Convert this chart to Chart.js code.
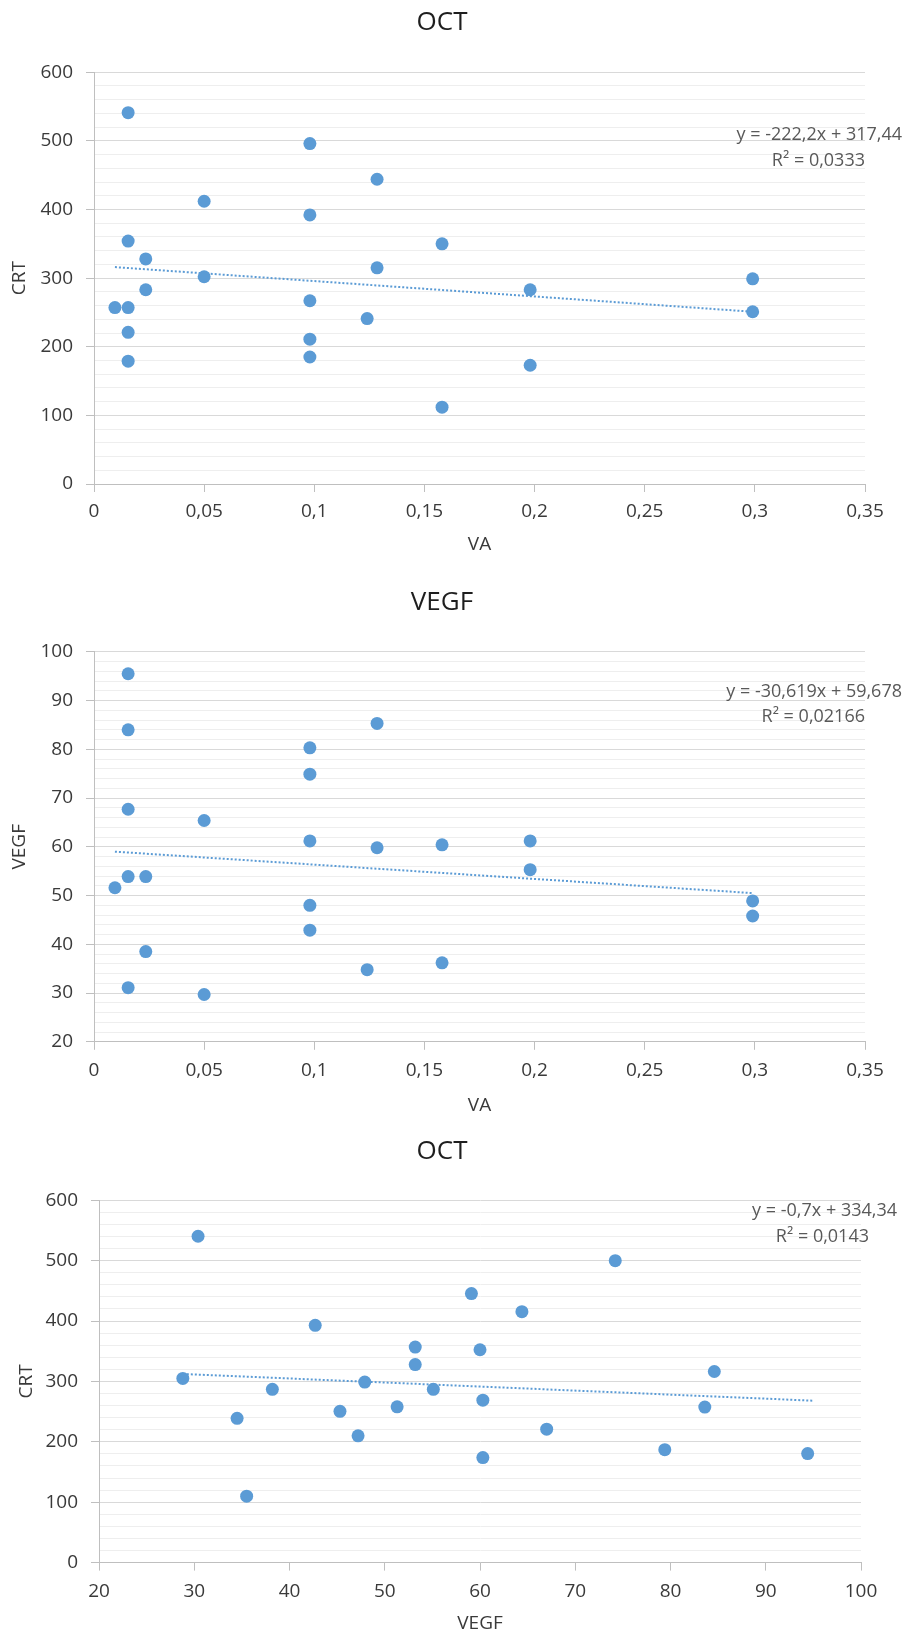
<!DOCTYPE html>
<html>
<head>
<meta charset="utf-8">
<title>OCT / VEGF / VA</title>
<script src="https://cdn.jsdelivr.net/npm/chart.js@4.4.1/dist/chart.umd.min.js"></script>
<style>
body{margin:0;background:#fff;}
canvas{position:absolute;left:0;}
</style>
</head>
<body>
<canvas id="c1" width="908" height="560" style="top:0px"></canvas>
<canvas id="c2" width="908" height="560" style="top:560px"></canvas>
<canvas id="c3" width="908" height="518" style="top:1120px"></canvas>
<script>
// chart 1: VA vs CRT
var va1  = [0.0155, 0.098, 0.1285, 0.05, 0.098, 0.158, 0.0155, 0.0235, 0.1285, 0.05, 0.0235, 0.0095,
            0.0155, 0.098, 0.124, 0.0155, 0.098, 0.098, 0.0155, 0.158, 0.198, 0.299, 0.299, 0.198];
var crt1 = [541, 496, 444, 412, 392, 350, 354, 328, 315, 302, 283, 257,
            257, 267, 241, 221, 211, 185, 179, 112, 283, 299, 251, 173];
var trend1X = [0.0095, 0.299];
var trend1Y = [316, 251];

// chart 2: VA vs VEGF
var va2   = [0.0155, 0.0155, 0.1285, 0.098, 0.098, 0.0155, 0.05, 0.098, 0.1285, 0.158, 0.0155, 0.0235,
             0.0095, 0.098, 0.098, 0.0235, 0.124, 0.158, 0.0155, 0.05, 0.198, 0.198, 0.299, 0.299];
var vegf2 = [95.5, 84, 85.3, 80.3, 74.9, 67.7, 65.4, 61.2, 59.8, 60.4, 53.9, 53.9,
             51.6, 48, 42.9, 38.5, 34.8, 36.2, 31.1, 29.7, 61.2, 55.3, 48.9, 45.8];
var trend2X = [0.0095, 0.299];
var trend2Y = [59.0, 50.5];

// chart 3: VEGF vs CRT
var vegf3 = [30.4, 42.7, 53.2, 53.2, 28.8, 47.9, 38.2, 55.1, 51.3, 45.3, 34.5, 47.2,
             35.5, 74.2, 59.1, 64.4, 60.0, 84.6, 60.3, 83.6, 67.0, 79.4, 94.4, 60.3];
var crt3  = [540.5, 393, 357, 328, 305, 299, 287, 287, 258, 250.5, 239, 210,
             110, 500, 445.5, 415.5, 352.5, 316.5, 269, 257.5, 221, 187, 180.5, 174];
var trend3X = [28.8, 94.9];
var trend3Y = [312.4, 268.2];

var titles = ['OCT', 'VEGF', 'OCT'];
var xTitles = ['VA', 'VA', 'VEGF'];
var yTitles = ['CRT', 'VEGF', 'CRT'];
var eqTexts = ['y = -222,2x + 317,44', 'y = -30,619x + 59,678', 'y = -0,7x + 334,34'];
var r2Texts = ['R\u00B2 = 0,0333', 'R\u00B2 = 0,02166', 'R\u00B2 = 0,0143'];

var blue = '#5b9bd5';
var fontName = "'Open Sans', sans-serif";
var textCol = '#3a3a3a';

function toPoints(xs, ys){
  var pts = [];
  for (var i = 0; i < xs.length; i++) pts.push({x: xs[i], y: ys[i]});
  return pts;
}

function fmt(v){
  return String(Math.round(v * 1000) / 1000).replace('.', ',');
}

// trendline equation text, right aligned like in excel
var eqPlugin = {
  id: 'eqLabel',
  afterDraw: function(chart, args, o){
    var ctx = chart.ctx, a = chart.chartArea;
    ctx.save();
    ctx.font = '18px ' + fontName;
    ctx.fillStyle = '#595959';
    ctx.textAlign = 'right';
    ctx.textBaseline = 'middle';
    ctx.fillText(o.eq, a.right + o.dx1, a.top + o.dy1);
    ctx.fillText(o.r2, a.right + o.dx2, a.top + o.dy2);
    ctx.restore();
  }
};

function makeChart(id, c){
  return new Chart(document.getElementById(id), {
    type: 'scatter',
    data: {
      datasets: [{
        data: toPoints(c.x, c.y),
        backgroundColor: blue, borderColor: blue,
        pointRadius: 6.5, pointHoverRadius: 6.5, borderWidth: 0
      }, {
        data: toPoints(c.tx, c.ty),
        showLine: true, borderColor: blue, borderWidth: 2, borderDash: [2, 2],
        pointRadius: 0, fill: false
      }]
    },
    options: {
      responsive: false,
      animation: false,
      layout: {padding: {left: c.padLeft, right: c.padRight, top: 0, bottom: 0}},
      plugins: {
        legend: {display: false},
        tooltip: {enabled: false},
        title: {
          display: true, text: c.title, color: '#1e1e1e',
          font: {family: fontName, size: 26, weight: 'normal'},
          padding: {top: c.titleTop, bottom: c.titleBottom}
        },
        eqLabel: c.eq
      },
      scales: {
        x: {
          type: 'linear', min: c.xMin, max: c.xMax,
          afterFit: function(s){ s.height = c.xHeight; },
          border: {color: '#bfbfbf'},
          grid: {drawOnChartArea: false, drawTicks: true, tickLength: 8, tickColor: '#bfbfbf'},
          ticks: {
            stepSize: c.xStep, autoSkip: false, maxRotation: 0, padding: c.xTickPad,
            color: textCol, font: {family: fontName, size: 19}, callback: fmt
          },
          title: {
            display: true, text: c.xTitle, color: textCol,
            font: {family: fontName, size: 19}, padding: {top: 0, bottom: c.xTitlePad}
          }
        },
        y: {
          min: c.yMin, max: c.yMax,
          afterFit: function(s){ s.width = c.yWidth; },
          border: {color: '#bfbfbf'},
          grid: {
            tickLength: 8,
            color: function(ctx){ return ctx.tick && ctx.tick.value % c.yMajor === 0 ? '#d9d9d9' : '#eeeeee'; },
            tickColor: function(ctx){ return ctx.tick && ctx.tick.value % c.yMajor === 0 ? '#bfbfbf' : 'rgba(0,0,0,0)'; }
          },
          ticks: {
            stepSize: c.yStep, autoSkip: false, padding: 13,
            color: textCol, font: {family: fontName, size: 19},
            callback: function(v){ return v % c.yMajor === 0 ? String(v) : ''; }
          },
          title: {
            display: true, text: c.yTitle, color: textCol,
            font: {family: fontName, size: 19}, padding: {top: c.yTitlePad, bottom: 0}
          }
        }
      }
    },
    plugins: [eqPlugin]
  });
}

makeChart('c1', {
  x: va1, y: crt1, tx: trend1X, ty: trend1Y,
  title: titles[0], xTitle: xTitles[0], yTitle: yTitles[0],
  titleTop: 7, titleBottom: 34, padLeft: 19, padRight: 43,
  xMin: 0, xMax: 0.35, xStep: 0.05, xHeight: 76, xTickPad: 8, xTitlePad: 4,
  yMin: 0, yMax: 600, yStep: 20, yMajor: 100, yWidth: 75, yTitlePad: -10.4,
  eq: {eq: eqTexts[0], r2: r2Texts[0], dx1: 37, dy1: 63, dx2: 0, dy2: 89}
});

makeChart('c2', {
  x: va2, y: vegf2, tx: trend2X, ty: trend2Y,
  title: titles[1], xTitle: xTitles[1], yTitle: yTitles[1],
  titleTop: 27.4, titleBottom: 33.2, padLeft: 19, padRight: 43,
  xMin: 0, xMax: 0.35, xStep: 0.05, xHeight: 78.2, xTickPad: 9.5, xTitlePad: 3,
  yMin: 20, yMax: 100, yStep: 2, yMajor: 10, yWidth: 75, yTitlePad: -10.4,
  eq: {eq: eqTexts[1], r2: r2Texts[1], dx1: 37, dy1: 39.6, dx2: 0, dy2: 65.2}
});

makeChart('c3', {
  x: vegf3, y: crt3, tx: trend3X, ty: trend3Y,
  title: titles[2], xTitle: xTitles[2], yTitle: yTitles[2],
  titleTop: 16.4, titleBottom: 32.7, padLeft: 23, padRight: 47,
  xMin: 20, xMax: 100, xStep: 10, xHeight: 75.4, xTickPad: 9.2, xTitlePad: 2.6,
  yMin: 0, yMax: 600, yStep: 20, yMajor: 100, yWidth: 76, yTitlePad: -7.7,
  eq: {eq: eqTexts[2], r2: r2Texts[2], dx1: 36, dy1: 10.7, dx2: 8, dy2: 36.7}
});
</script>
</body>
</html>
